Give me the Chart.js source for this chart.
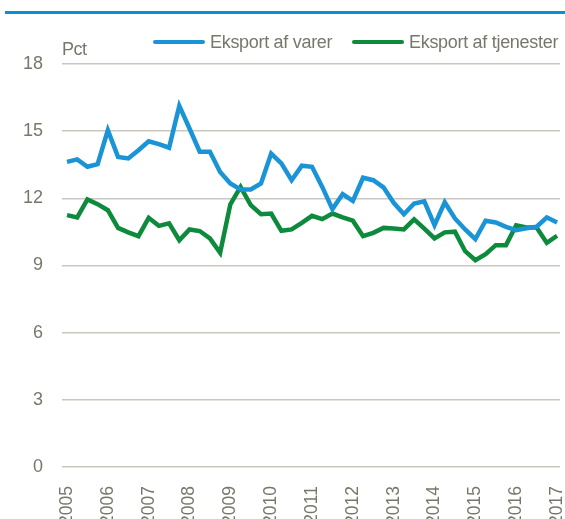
<!DOCTYPE html>
<html lang="da">
<head>
    <meta charset="UTF-8">
    <title>Eksport</title>
    <script src="https://cdn.jsdelivr.net/npm/chart.js"></script>
    <style>
        body {
            margin: 0;
            width: 565px;
            height: 519px;
            overflow: hidden;
            background: #fff;
            font-family: 'Liberation Sans Narrow', 'Arial Narrow', 'Liberation Sans', sans-serif;
            color: #77776b;
        }
        #wrap {
            position: relative;
            width: 565px;
            height: 519px;
        }
        #top-rule {
            position: absolute;
            left: 5px;
            right: 0;
            top: 11px;
            height: 3px;
            background: #0b8fd2;
        }
        #unit {
            position: absolute;
            left: 62px;
            top: 39px;
            font-size: 18px;
            letter-spacing: -0.5px;
        }
        .legend-item {
            position: absolute;
            top: 32px;
            font-size: 18px;
            letter-spacing: -0.3px;
            white-space: nowrap;
        }
        .swatch {
            display: inline-block;
            width: 52px;
            height: 4px;
            border-radius: 2px;
            vertical-align: middle;
            margin-right: 5px;
            position: relative;
            top: -1px;
        }
    </style>
</head>
<body>
<div id="wrap">
    <div id="top-rule"></div>
    <div id="unit">Pct</div>
    <div class="legend-item" style="left:153px"><span class="swatch" style="background:#1a94d6"></span>Eksport af varer</div>
    <div class="legend-item" style="left:352px"><span class="swatch" style="background:#0e8a3c"></span>Eksport af tjenester</div>
    <canvas id="chart" width="565" height="519"></canvas>
</div>
<script>
    // kvartalsdata 2005K1 - 2017K1
    const years = ['2005', '2006', '2007', '2008', '2009', '2010', '2011', '2012', '2013', '2014', '2015', '2016', '2017'];

    const varer = [
        13.63, 13.74, 13.41, 13.53, 15.04, 13.85, 13.78, 14.15, 14.55, 14.42, 14.26, 16.13,
        15.12, 14.08, 14.08, 13.18, 12.66, 12.40, 12.40, 12.66, 14.00, 13.56, 12.81, 13.46,
        13.41, 12.51, 11.52, 12.19, 11.89, 12.92, 12.81, 12.49, 11.80, 11.29, 11.77, 11.87,
        10.80, 11.82, 11.10, 10.61, 10.18, 11.00, 10.92, 10.73, 10.58, 10.66, 10.73, 11.15,
        10.92
    ];

    const tjenester = [
        11.25, 11.15, 11.95, 11.74, 11.47, 10.68, 10.48, 10.31, 11.13, 10.77, 10.88, 10.13,
        10.61, 10.54, 10.21, 9.57, 11.73, 12.51, 11.70, 11.29, 11.32, 10.55, 10.61, 10.90,
        11.22, 11.07, 11.32, 11.15, 11.00, 10.31, 10.46, 10.68, 10.65, 10.61, 11.06, 10.65,
        10.21, 10.48, 10.51, 9.64, 9.24, 9.51, 9.91, 9.91, 10.80, 10.70, 10.70, 10.01,
        10.33
    ];

    const textColor = '#77776b';
    const gridColor = '#c9c7be';
    const fontFamily = "'Liberation Sans Narrow', 'Arial Narrow', 'Liberation Sans', sans-serif";

    const toPoints = arr => arr.map((v, i) => ({ x: i, y: v }));

    new Chart(document.getElementById('chart'), {
        type: 'line',
        data: {
            datasets: [
                {
                    label: 'Eksport af varer',
                    data: toPoints(varer),
                    borderColor: '#1a94d6',
                    borderWidth: 4.5,
                    pointRadius: 0,
                    tension: 0
                },
                {
                    label: 'Eksport af tjenester',
                    data: toPoints(tjenester),
                    borderColor: '#0e8a3c',
                    borderWidth: 4.5,
                    pointRadius: 0,
                    tension: 0
                }
            ]
        },
        options: {
            responsive: false,
            animation: false,
            layout: {
                padding: { top: 64, right: 5, left: 0, bottom: 0 }
            },
            plugins: {
                legend: { display: false },
                tooltip: { enabled: false }
            },
            scales: {
                x: {
                    type: 'linear',
                    min: -0.49,
                    max: 48.29,
                    grid: { display: false },
                    border: { display: false },
                    afterBuildTicks: scale => {
                        scale.ticks = years.map((y, i) => ({ value: i * 4 }));
                    },
                    afterFit: scale => {
                        scale.height = 52;
                        scale.paddingLeft = 0;
                        scale.paddingRight = 0;
                    },
                    ticks: {
                        autoSkip: false,
                        minRotation: 90,
                        maxRotation: 90,
                        padding: 11,
                        color: textColor,
                        font: { family: fontFamily, size: 17.5 },
                        callback: value => years[value / 4]
                    }
                },
                y: {
                    min: 0,
                    max: 18,
                    ticks: {
                        stepSize: 3,
                        padding: 19,
                        color: textColor,
                        font: { family: fontFamily, size: 18 }
                    },
                    grid: {
                        color: gridColor,
                        lineWidth: 1.5,
                        drawTicks: false
                    },
                    border: { display: false },
                    afterFit: scale => { scale.width = 62; }
                }
            }
        }
    });
</script>
</body>
</html>
